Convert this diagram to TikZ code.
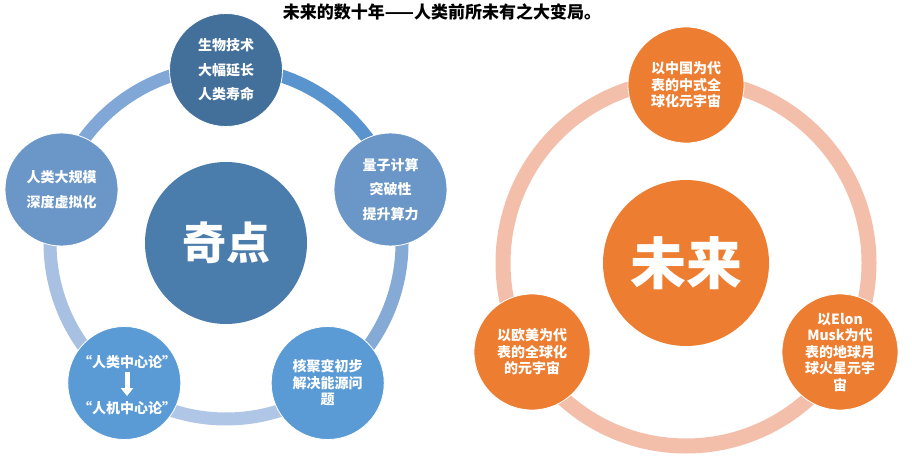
\documentclass[tikz,border=0pt]{standalone}
\usepackage{fontspec}
\setmainfont{Noto Sans CJK SC}
\usepackage{tikz}
\usetikzlibrary{arrows.meta}
\definecolor{bluetop}{RGB}{67,112,155}
\definecolor{bluecore}{RGB}{74,124,172}
\definecolor{blueside}{RGB}{107,151,200}
\definecolor{bluelow}{RGB}{91,155,213}
\definecolor{ringa}{RGB}{90,148,206}
\definecolor{ringb}{RGB}{134,170,214}
\definecolor{ringc}{RGB}{176,198,230}
\definecolor{ringd}{RGB}{168,192,226}
\definecolor{ringe}{RGB}{128,167,214}
\definecolor{orange}{RGB}{237,125,49}
\definecolor{salmon}{RGB}{243,190,170}
\tikzset{
  sat/.style={circle, draw=white, line width=0.8pt, minimum size=113pt, inner sep=0pt,
              align=center, text=white, font=\fontsize{14}{24.5}\selectfont\bfseries},
  tight/.style={font=\fontsize{14}{16.5}\selectfont\bfseries},
  core/.style={circle, inner sep=0pt, text=white, font=\bfseries},
  ring/.style={line width=13pt},
  txt/.style={text=white, inner sep=0pt, font=\fontsize{14}{16.5}\selectfont\bfseries},
}

\begin{document}
\begin{tikzpicture}[x=1pt, y=-1pt]
  \useasboundingbox (0,0) rectangle (912,457);

  % Title
  \node[font=\fontsize{17}{20}\selectfont\bfseries] (title) at (442,12) {未来的数十年——人类前所未有之大变局。};

  % Left cycle: ring segments
  \coordinate (ctrl) at (226,243);
  \draw[ring, ringa] (ctrl) ++(-90:176) arc[start angle=-90, end angle=-18, radius=176];
  \draw[ring, ringb] (ctrl) ++(-18:176) arc[start angle=-18, end angle=54, radius=176];
  \draw[ring, ringc] (ctrl) ++(54:176) arc[start angle=54, end angle=126, radius=176];
  \draw[ring, ringd] (ctrl) ++(126:176) arc[start angle=126, end angle=198, radius=176];
  \draw[ring, ringe] (ctrl) ++(198:176) arc[start angle=198, end angle=270, radius=176];

  % Left cycle: circles
  \node[core, fill=bluecore, minimum size=162pt, font=\fontsize{44}{48}\selectfont\bfseries] (qidian) at (226,243) {奇点};
  \node[sat, fill=bluetop] (bio) at (226,70) {生物技术\\大幅延长\\人类寿命};
  \node[sat, fill=blueside] (quantum) at (390.5,189.5) {量子计算\\突破性\\提升算力};
  \node[sat, tight, fill=bluelow] (fusion) at (327.7,383) {核聚变初步\\解决能源问\\题};
  \node[sat, fill=bluelow] (center) at (124.3,383) {};
  \node[sat, fill=blueside] (virtual) at (61.5,189.5) {人类大规模\\深度虚拟化};

  \node[txt] (human) at (127,362) {“人类中心论”};
  \node[txt] (machine) at (127,408) {“人机中心论”};
  \draw[white, line width=5pt, -{Triangle[width=12pt, length=8pt]},
        shorten <=3pt, shorten >=5pt] (human) -- (machine);

  % Right cycle: ring
  \coordinate (ctrr) at (686,263);
  \draw[line width=15pt, salmon] (ctrr) circle[radius=183];

  % Right cycle: circles
  \node[core, fill=orange, minimum size=166pt, font=\fontsize{56}{60}\selectfont\bfseries] (future) at (686,263) {未来};
  \node[sat, tight, fill=orange, minimum size=116pt] (china) at (686,85) {以中国为代\\表的中式全\\球化元宇宙};
  \node[sat, tight, fill=orange, minimum size=116pt] (west) at (532,352) {以欧美为代\\表的全球化\\的元宇宙};
  \node[sat, tight, fill=orange, minimum size=116pt] (musk) at (840,352) {以Elon\\Musk为代\\表的地球月\\球火星元宇\\宙};

\end{tikzpicture}
\end{document}
